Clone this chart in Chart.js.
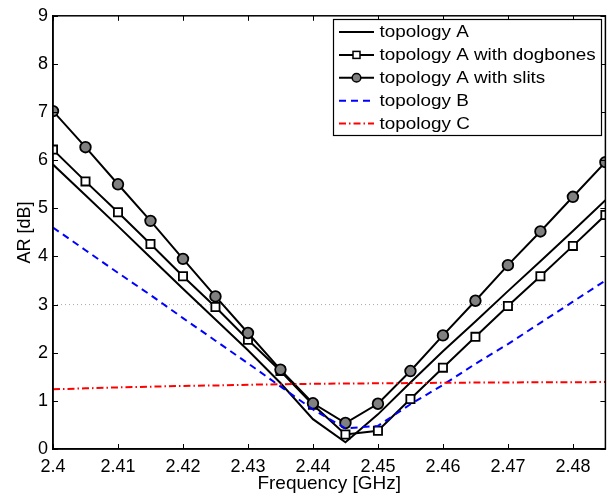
<!DOCTYPE html>
<html><head><meta charset="utf-8">
<script src="https://cdn.jsdelivr.net/npm/chart.js@4/dist/chart.umd.min.js"></script>
<style>html,body{margin:0;padding:0;background:#fff}#wrap{width:613px;height:496px}</style>
</head><body><div id="wrap"><canvas id="c" width="613" height="496"></canvas></div>
<script>
const freq = [2.400,2.405,2.410,2.415,2.420,2.425,2.430,2.435,2.440,2.445,2.450,2.455,2.460,2.465,2.470,2.475,2.480,2.485];
const topoA     = [5.91,5.27,4.63,3.98,3.33,2.69,2.05,1.37,0.62,0.14,0.72,1.38,2.03,2.65,3.28,3.90,4.53,5.17];
const topoADog  = [6.22,5.56,4.92,4.26,3.59,2.95,2.27,1.62,0.92,0.30,0.38,1.04,1.69,2.33,2.97,3.59,4.22,4.86];
const topoASlit = [7.02,6.27,5.50,4.74,3.95,3.17,2.41,1.65,0.95,0.54,0.94,1.62,2.36,3.08,3.82,4.52,5.24,5.96];
const topoB     = [4.60,4.13,3.66,3.20,2.72,2.25,1.78,1.30,0.82,0.43,0.48,0.93,1.33,1.77,2.18,2.62,3.06,3.50];
const topoC     = [1.24,1.26,1.28,1.295,1.31,1.32,1.335,1.345,1.355,1.36,1.365,1.37,1.375,1.38,1.383,1.386,1.388,1.39];
const ref3dB    = [3,3];
const ref3dBx   = [2.4,2.485];
const xTicks = [2.40,2.41,2.42,2.43,2.44,2.45,2.46,2.47,2.48];
const xTickLabels = ['2.4','2.41','2.42','2.43','2.44','2.45','2.46','2.47','2.48'];
const yTicks = [0,1,2,3,4,5,6,7,8,9];
const seriesNames = ['topology A','topology A with dogbones','topology A with slits','topology B','topology C'];

const pts = (xs, ys) => xs.map((x,i)=>({x:x,y:ys[i]}));
const FONT = '"Liberation Sans", Arial, Helvetica, sans-serif';

const frame = {
  id:'frame',
  afterDraw(chart){
    const {ctx, chartArea:a, scales:{x,y}} = chart;
    ctx.save();
    ctx.strokeStyle='#000'; ctx.lineWidth=1.5;
    ctx.strokeRect(a.left,a.top,a.right-a.left,a.bottom-a.top);
    ctx.lineWidth=1;
    const L=5;
    ctx.beginPath();
    xTicks.forEach(v=>{const px=Math.round(x.getPixelForValue(v))+0.5;
      ctx.moveTo(px,a.bottom);ctx.lineTo(px,a.bottom-L);
      ctx.moveTo(px,a.top);ctx.lineTo(px,a.top+L);});
    yTicks.forEach(v=>{const py=Math.round(y.getPixelForValue(v))+0.5;
      ctx.moveTo(a.left,py);ctx.lineTo(a.left+L,py);
      ctx.moveTo(a.right,py);ctx.lineTo(a.right-L,py);});
    ctx.stroke();
    // legend
    const bx=333.5, by=19.5, bw=268, bh=116, rowH=22.9, r0=32;
    ctx.fillStyle='#fff'; ctx.fillRect(bx,by,bw,bh);
    ctx.lineWidth=1.2; ctx.strokeStyle='#000'; ctx.strokeRect(bx,by,bw,bh);
    chart.data.datasets.forEach((ds,i)=>{
      if(ds.noLegend) return;
      const yy=r0+i*rowH;
      ctx.save();
      ctx.strokeStyle=ds.borderColor; ctx.lineWidth=ds.borderWidth;
      ctx.setLineDash(ds.borderDash||[]);
      ctx.beginPath(); ctx.moveTo(339,yy); ctx.lineTo(374,yy); ctx.stroke();
      ctx.setLineDash([]);
      if(ds.pointRadius>0){
        ctx.fillStyle=ds.pointBackgroundColor; ctx.strokeStyle=ds.pointBorderColor; ctx.lineWidth=1.5;
        if(ds.pointStyle==='rect'){ctx.fillRect(353,yy-3.5,7,7);ctx.strokeRect(353,yy-3.5,7,7);}
        else {ctx.beginPath();ctx.arc(356.5,yy,4.3,0,Math.PI*2);ctx.fill();ctx.stroke();}
      }
      ctx.restore();
      ctx.save();
      ctx.fillStyle='#000'; ctx.font='16px '+FONT; ctx.textBaseline='middle';
      ctx.translate(379.5,yy+0.5); ctx.scale(1.18,1);
      ctx.fillText(seriesNames[i],0,0);
      ctx.restore();
    });
    ctx.restore();
  }
};

new Chart(document.getElementById('c'),{
  type:'line',
  data:{datasets:[
    {label:seriesNames[0],data:pts(freq,topoA),borderColor:'#000',borderWidth:2,pointRadius:0,order:4},
    {label:seriesNames[1],data:pts(freq,topoADog),borderColor:'#000',borderWidth:2,pointStyle:'rect',pointRadius:5.8,
      pointBackgroundColor:'#fff',pointBorderColor:'#000',pointBorderWidth:1.8,order:3},
    {label:seriesNames[2],data:pts(freq,topoASlit),borderColor:'#000',borderWidth:2,pointStyle:'circle',pointRadius:5.3,
      pointBackgroundColor:'#808080',pointBorderColor:'#000',pointBorderWidth:1.8,order:2},
    {label:seriesNames[3],data:pts(freq,topoB),borderColor:'#0000ff',borderWidth:2,borderDash:[7,5],pointRadius:0,order:1},
    {label:seriesNames[4],data:pts(freq,topoC),borderColor:'#ff0000',borderWidth:2,borderDash:[7,3,1.5,3],pointRadius:0,order:0},
    {label:'3 dB',noLegend:true,data:pts(ref3dBx,ref3dB),borderColor:'#a8a8a8',borderWidth:1,borderDash:[1,3],pointRadius:0,order:5}
  ]},
  options:{
    responsive:false, animation:false, devicePixelRatio:1,
    layout:{padding:{top:13,right:6,left:0,bottom:0}},
    plugins:{legend:{display:false},tooltip:{enabled:false}},
    elements:{line:{tension:0,fill:false}},
    scales:{
      x:{type:'linear',min:2.4,max:2.485,
        afterBuildTicks:s=>{s.ticks=xTicks.map(v=>({value:v}));},
        afterFit:s=>{s.height=47;},
        grid:{display:false,drawTicks:false},border:{display:true,color:'#000',width:1.5},
        ticks:{autoSkip:false,maxRotation:0,padding:7,color:'#000',font:{family:FONT,size:18},callback:(v,i)=>xTickLabels[i]},
        title:{display:true,text:'Frequency [GHz]',color:'#000',font:{family:FONT,size:19},padding:{top:0,bottom:1}}
      },
      y:{type:'linear',min:0,max:9,
        afterBuildTicks:s=>{s.ticks=yTicks.map(v=>({value:v}));},
        afterFit:s=>{s.width=53;},
        grid:{display:false,drawTicks:false},border:{display:true,color:'#000',width:1.5},
        ticks:{autoSkip:false,padding:5,color:'#000',font:{family:FONT,size:18},callback:v=>String(v)},
        title:{display:true,text:'AR [dB]',color:'#000',font:{family:FONT,size:18},padding:{top:14,bottom:0}}
      }
    }
  },
  plugins:[frame]
});
</script></body></html>
